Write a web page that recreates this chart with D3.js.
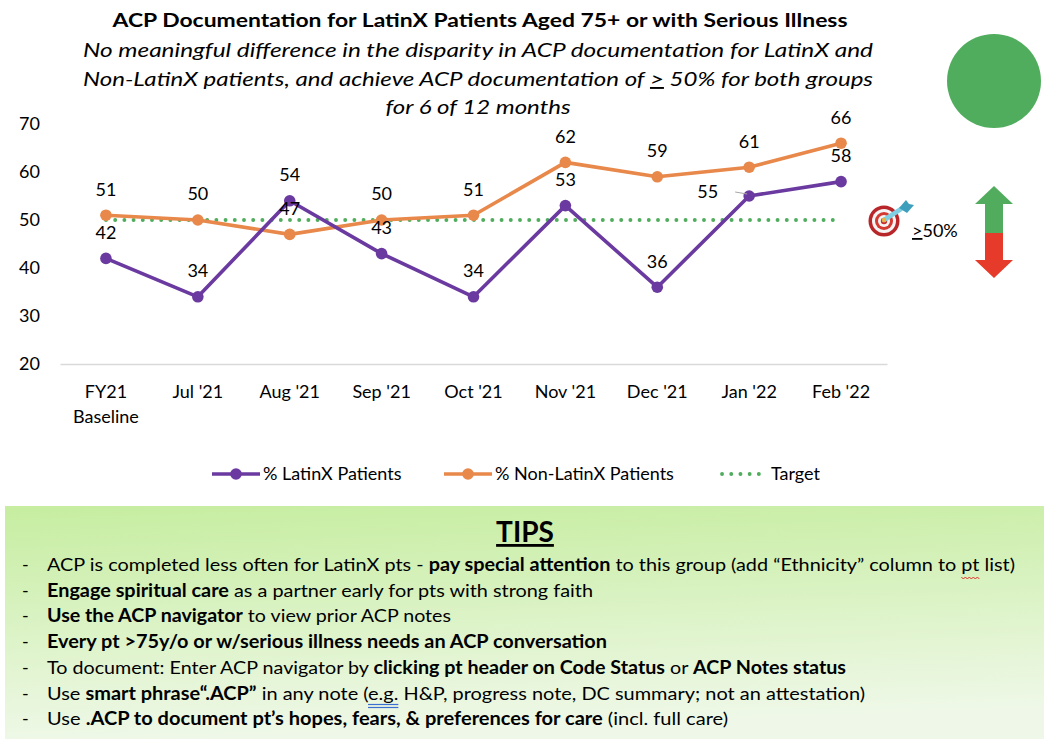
<!DOCTYPE html>
<html>
<head>
<meta charset="utf-8">
<script src="https://cdn.jsdelivr.net/npm/d3@7"></script>
<style>
  body { margin: 0; background: #fff; }
  svg text { font-family: Lato, "Liberation Sans", sans-serif; fill: #000; }
</style>
</head>
<body>
<svg id="chart" width="1058" height="748"></svg>
<script>
// chart data
var categories = ["FY21|Baseline", "Jul '21", "Aug '21", "Sep '21", "Oct '21", "Nov '21", "Dec '21", "Jan '22", "Feb '22"];
var latinx = [42, 34, 54, 43, 34, 53, 36, 55, 58];
var nonLatinx = [51, 50, 47, 50, 51, 62, 59, 61, 66];
var target = [50, 50, 50, 50, 50, 50, 50, 50, 50];
var yTicks = [20, 30, 40, 50, 60, 70];

var seriesNames = ["% LatinX Patients", "% Non-LatinX Patients", "Target"];
var purple = "#6b3aa0", orange = "#e8884a", green = "#50ad5d";

var tips = [
  [["ACP is completed less often for LatinX pts - ", 0], ["pay special attention", 1], [" to this group (add \u201cEthnicity\u201d column to pt list)", 0]],
  [["Engage spiritual care", 1], [" as a partner early for pts with strong faith", 0]],
  [["Use the ACP navigator", 1], [" to view prior ACP notes", 0]],
  [["Every pt >75y/o or w/serious illness needs an ACP conversation", 1]],
  [["To document: Enter ACP navigator by ", 0], ["clicking pt header on Code Status", 1], [" or ", 0], ["ACP Notes status", 1]],
  [["Use ", 0], ["smart phrase\u201c.ACP\u201d", 1], [" in any note (e.g. H&P, progress note, DC summary; not an attestation)", 0]],
  [["Use ", 0], [".ACP to document pt\u2019s hopes, fears, & preferences for care", 1], [" (incl. full care)", 0]]
];
var tipWidths = [968, 546, 404, 560, 799, 818, 681];

var svg = d3.select("#chart");

function fitText(sel, width) {
  sel.attr("textLength", width).attr("lengthAdjust", "spacingAndGlyphs");
}

// title block
svg.append("text").attr("x", 480).attr("y", 27).attr("text-anchor", "middle")
  .style("font-weight", "bold").style("font-size", "19px")
  .text("ACP Documentation for LatinX Patients Aged 75+ or with Serious Illness")
  .call(fitText, 735);

var sub1 = svg.append("text").attr("x", 478).attr("y", 57).attr("text-anchor", "middle")
  .style("font-style", "italic").style("font-size", "19px")
  .text("No meaningful difference in the disparity in ACP documentation for LatinX and");
sub1.call(fitText, 790);
var sub2 = svg.append("text").attr("x", 478).attr("y", 86).attr("text-anchor", "middle")
  .style("font-style", "italic").style("font-size", "19px");
sub2.append("tspan").text("Non-LatinX patients, and achieve ACP documentation of ");
sub2.append("tspan").style("text-decoration", "underline").text(">");
sub2.append("tspan").text(" 50% for both groups");
sub2.call(fitText, 790);
svg.append("text").attr("x", 478).attr("y", 114).attr("text-anchor", "middle")
  .style("font-style", "italic").style("font-size", "19px")
  .text("for 6 of 12 months").call(fitText, 185);

// status circle
svg.append("circle").attr("cx", 994).attr("cy", 81).attr("r", 47).attr("fill", green);

// scales
var x = d3.scaleBand().domain(categories).range([60, 887]);
var y = d3.scaleLinear().domain([20, 70]).range([364, 124]);
var cx = function (d, i) { return x(categories[i]) + x.bandwidth() / 2; };

// y axis labels (no line)
svg.append("g").selectAll("text").data(yTicks).join("text")
  .attr("x", 40).attr("y", function (d) { return y(d); })
  .attr("text-anchor", "end").attr("dy", "0.35em")
  .style("font-size", "18px").text(function (d) { return d; });

// x axis
var xAxis = svg.append("g").attr("transform", "translate(0,364)")
  .call(d3.axisBottom(x).tickSize(0).tickPadding(0).tickFormat(""));
xAxis.select(".domain").attr("stroke", "#d9d9d9").attr("stroke-width", 1.3);
xAxis.selectAll(".tick").each(function (d) {
  var parts = d.split("|");
  var t = d3.select(this).append("text").attr("text-anchor", "middle")
    .style("font-size", "18px").attr("fill", "#000");
  parts.forEach(function (p, k) {
    t.append("tspan").attr("x", 0).attr("y", 34 + k * 25).text(p);
  });
});

// target line
var line = d3.line().x(cx).y(function (d) { return y(d); });
svg.append("path").datum(target).attr("d", line)
  .attr("fill", "none").attr("stroke", green).attr("stroke-width", 3.8)
  .attr("stroke-linecap", "round").attr("stroke-dasharray", "0.1 9.1");

// series lines
function drawSeries(vals, color) {
  svg.append("path").datum(vals).attr("d", line)
    .attr("fill", "none").attr("stroke", color).attr("stroke-width", 3.6)
    .attr("stroke-linejoin", "round");
  svg.append("g").selectAll("circle").data(vals).join("circle")
    .attr("cx", cx).attr("cy", function (d) { return y(d); })
    .attr("r", 5.8).attr("fill", color);
}
drawSeries(nonLatinx, orange);
drawSeries(latinx, purple);

// data labels
function drawLabels(vals, special) {
  svg.append("g").selectAll("text").data(vals).join("text")
    .attr("x", function (d, i) { return special === i ? cx(d, i) - 31 : cx(d, i); })
    .attr("y", function (d, i) { return special === i ? y(d) - 4 : y(d) - 26; })
    .attr("dy", "0.35em")
    .attr("text-anchor", function (d, i) { return special === i ? "end" : "middle"; })
    .style("font-size", "18px").text(function (d) { return d; });
}
drawLabels(nonLatinx, -1);
drawLabels(latinx, 7);
// leader line for the shifted Jan label
svg.append("line")
  .attr("x1", cx(latinx[7], 7) - 14).attr("x2", cx(latinx[7], 7) - 2)
  .attr("y1", y(latinx[7]) - 4).attr("y2", y(latinx[7]) - 2)
  .attr("stroke", "#a6a6a6").attr("stroke-width", 1);

// target marker icon
var tg = svg.append("g").attr("transform", "translate(884,221)");
tg.append("circle").attr("r", 15.5).attr("fill", "#b8262a");
tg.append("circle").attr("r", 12).attr("fill", "#f4f4f4");
tg.append("circle").attr("r", 9).attr("fill", "#d33a32");
tg.append("circle").attr("r", 6).attr("fill", "#f4f4f4");
tg.append("circle").attr("r", 3.2).attr("fill", "#c9302c");
tg.append("line").attr("x1", 0).attr("y1", -1).attr("x2", 17).attr("y2", -12)
  .attr("stroke", "#7fd0e2").attr("stroke-width", 4.5).attr("stroke-linecap", "round");
tg.append("path").attr("d", "M15,-13 L22,-21 L25,-17 L30,-16 L23,-8 Z").attr("fill", "#3e9fbd");
tg.append("circle").attr("cy", -1).attr("r", 2.2).attr("fill", "#f0b040");

var gt = svg.append("text").attr("x", 912).attr("y", 237).style("font-size", "18px");
gt.append("tspan").style("text-decoration", "underline").text(">");
gt.append("tspan").text("50%");

// up/down arrow
svg.append("path").attr("d", "M994,186 L1013,204 L1003,204 L1003,233 L985,233 L985,204 L975,204 Z")
  .attr("fill", "#52ac5e");
svg.append("path").attr("d", "M985,233 L1003,233 L1003,260 L1013,260 L994,278 L975,260 L985,260 Z")
  .attr("fill", "#e63a2a");

// legend
var legendItems = [
  { name: seriesNames[0], color: purple, x0: 212, tx: 263 },
  { name: seriesNames[1], color: orange, x0: 444, tx: 495 },
  { name: seriesNames[2], color: green, x0: 720, tx: 771, dotted: true }
];
var lg = svg.append("g").attr("transform", "translate(0,474)");
legendItems.forEach(function (it) {
  if (it.dotted) {
    lg.append("line").attr("x1", it.x0 + 2).attr("x2", it.x0 + 40).attr("y1", 0).attr("y2", 0)
      .attr("stroke", it.color).attr("stroke-width", 3.8).attr("stroke-linecap", "round")
      .attr("stroke-dasharray", "0.1 9.1");
  } else {
    lg.append("line").attr("x1", it.x0).attr("x2", it.x0 + 48).attr("y1", 0).attr("y2", 0)
      .attr("stroke", it.color).attr("stroke-width", 3.6);
    lg.append("circle").attr("cx", it.x0 + 24).attr("r", 5.8).attr("fill", it.color);
  }
  lg.append("text").attr("x", it.tx).attr("dy", "0.35em").style("font-size", "18px").text(it.name);
});

// tips box
var defs = svg.append("defs");
var grad = defs.append("linearGradient").attr("id", "tipsGrad")
  .attr("x1", 0).attr("y1", 0).attr("x2", 0.15).attr("y2", 1);
grad.append("stop").attr("offset", "0%").attr("stop-color", "#c6eda0");
grad.append("stop").attr("offset", "100%").attr("stop-color", "#eff8e8");
svg.append("rect").attr("x", 5).attr("y", 506).attr("width", 1039).attr("height", 233)
  .attr("fill", "url(#tipsGrad)");

svg.append("text").attr("x", 525).attr("y", 542).attr("text-anchor", "middle")
  .style("font-size", "28px").style("font-weight", "bold").style("text-decoration", "underline")
  .text("TIPS");

var tipNodes = [];
tips.forEach(function (parts, i) {
  var yy = 571 + i * 25.7;
  svg.append("text").attr("x", 22).attr("y", yy).style("font-size", "18px").text("-");
  var t = svg.append("text").attr("x", 47).attr("y", yy).style("font-size", "18px");
  parts.forEach(function (p) {
    t.append("tspan").style("font-weight", p[1] ? "bold" : "normal").text(p[0]);
  });
  t.call(fitText, tipWidths[i]);
  tipNodes.push({ node: t.node(), text: parts.map(function (p) { return p[0]; }).join(""), y: yy });
});

// spell-check marks (red squiggle under "pt", blue double line under "e.g.")
function charSpan(info, word) {
  var k = info.text.lastIndexOf(word);
  var a = info.node.getStartPositionOfChar(k).x;
  var b = info.node.getEndPositionOfChar(k + word.length - 1).x;
  return [a, b];
}
var sq = charSpan(tipNodes[0], "pt list");
var sqEnd = sq[0] + (charSpan(tipNodes[0], "pt")[1] - sq[0]);
var pts = [];
for (var sx = sq[0], k = 0; sx <= sqEnd + 0.1; sx += 2, k++) {
  pts.push([sx, tipNodes[0].y + 6 + (k % 2 ? 2 : 0)]);
}
svg.append("path").attr("d", d3.line()(pts)).attr("fill", "none")
  .attr("stroke", "#e0302a").attr("stroke-width", 1);
var eg = charSpan(tipNodes[5], "e.g.");
[5, 8].forEach(function (off) {
  svg.append("line").attr("x1", eg[0]).attr("x2", eg[1])
    .attr("y1", tipNodes[5].y + off).attr("y2", tipNodes[5].y + off)
    .attr("stroke", "#3a6ed0").attr("stroke-width", 1.2);
});
</script>
</body>
</html>
